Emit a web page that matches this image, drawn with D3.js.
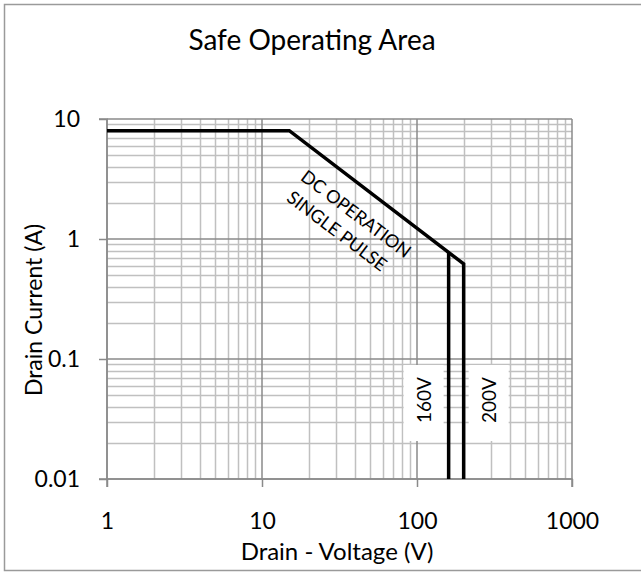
<!DOCTYPE html>
<html>
<head>
<meta charset="utf-8">
<script src="https://cdn.jsdelivr.net/npm/d3@7"></script>
<style>
  body { margin: 0; background: #fff; }
  text { font-family: Lato, "Open Sans", sans-serif; fill: #000; }
</style>
</head>
<body>
<div id="chart"></div>
<script>
// SOA data
var limitVoltage = [1, 15, 200];
var limitCurrent = [8, 8, 0.62];
var breakdownVoltage = [160, 200];
var breakdownTopCurrent = [0.78, 0.62];
var breakdownLabels = ["160V", "200V"];
var bottomCurrent = 0.01;

var xTicks = [1, 10, 100, 1000];
var yTicks = [0.01, 0.1, 1, 10];
var xTickLabels = ["1", "10", "100", "1000"];
var yTickLabels = ["0.01", "0.1", "1", "10"];

var svgWidth = 641;
var svgHeight = 572;
var margin = {top: 119, left: 107};
var width = 465;
var height = 360;

var svg = d3.select("#chart")
  .append("svg")
  .attr("width", svgWidth)
  .attr("height", svgHeight);

// outer frame
svg.append("rect")
  .attr("x", 4.5).attr("y", 4.5)
  .attr("width", 640).attr("height", 566)
  .attr("fill", "#fff")
  .attr("stroke", "#9a9a9a")
  .attr("stroke-width", 1.5);

svg.append("text")
  .attr("x", 312).attr("y", 50)
  .attr("text-anchor", "middle")
  .attr("font-size", "28px")
  .text("Safe Operating Area");

var chartGroup = svg.append("g")
  .attr("transform", `translate(${margin.left}, ${margin.top})`);

var x = d3.scaleLog().domain([1, 1000]).range([0, width]);
var y = d3.scaleLog().domain([0.01, 10]).range([height, 0]);

// minor grid values, 2..9 of each decade
var minorX = [];
[1, 10, 100].forEach(function(d) { for (var k = 2; k < 10; k++) minorX.push(d * k); });
var minorY = [];
[0.01, 0.1, 1].forEach(function(d) { for (var k = 2; k < 10; k++) minorY.push(d * k); });

// minor grid
chartGroup.append("g").selectAll("line")
  .data(minorX).enter().append("line")
  .attr("x1", d => Math.round(x(d)) + 0.5).attr("x2", d => Math.round(x(d)) + 0.5)
  .attr("y1", 0).attr("y2", height)
  .attr("stroke", "#c0c0c0").attr("stroke-width", 1.5);
chartGroup.append("g").selectAll("line")
  .data(minorY).enter().append("line")
  .attr("y1", d => Math.round(y(d)) + 0.5).attr("y2", d => Math.round(y(d)) + 0.5)
  .attr("x1", 0).attr("x2", width)
  .attr("stroke", "#c0c0c0").attr("stroke-width", 1.5);

// major grid
chartGroup.append("g").selectAll("line")
  .data(xTicks).enter().append("line")
  .attr("x1", d => x(d)).attr("x2", d => x(d))
  .attr("y1", 0).attr("y2", height)
  .attr("stroke", "#8a8a8a").attr("stroke-width", 1.5);
chartGroup.append("g").selectAll("line")
  .data(yTicks).enter().append("line")
  .attr("y1", d => y(d)).attr("y2", d => y(d))
  .attr("x1", 0).attr("x2", width)
  .attr("stroke", "#8a8a8a").attr("stroke-width", 1.5);

// axes
var bottomAxis = d3.axisBottom(x).tickValues(xTicks).tickSize(8).tickPadding(26)
  .tickFormat((d, i) => xTickLabels[i]);
var leftAxis = d3.axisLeft(y).tickValues(yTicks).tickSize(8).tickPadding(19)
  .tickFormat((d, i) => yTickLabels[i]);

var xAxisG = chartGroup.append("g")
  .attr("transform", `translate(0, ${height})`)
  .call(bottomAxis);
var yAxisG = chartGroup.append("g").call(leftAxis);

[xAxisG, yAxisG].forEach(function(g) {
  g.select(".domain").attr("stroke", "#8a8a8a").attr("stroke-width", 1.5);
  g.selectAll(".tick line").attr("stroke", "#8a8a8a").attr("stroke-width", 1.5);
  g.selectAll(".tick text").attr("font-size", "23px").attr("fill", "#000")
    .attr("font-family", "Lato, 'Open Sans', sans-serif");
});
yAxisG.select(".domain").attr("d", `M-8,0H0V${height}H-8`);
xAxisG.select(".domain").attr("d", `M0,8V0H${width}V8`);

// axis titles
svg.append("text")
  .attr("x", 337).attr("y", 560)
  .attr("text-anchor", "middle")
  .attr("font-size", "24px")
  .text("Drain - Voltage (V)");

svg.append("text")
  .attr("transform", "translate(42, 310) rotate(-90)")
  .attr("text-anchor", "middle")
  .attr("font-size", "23px")
  .text("Drain Current (A)");

// white label boxes for the breakdown voltages
breakdownVoltage.forEach(function(v, i) {
  var cx = i === 0 ? x(v) - 25 : x(v) + 25;
  chartGroup.append("rect")
    .attr("x", cx - 20).attr("y", 365 - margin.top)
    .attr("width", 40).attr("height", 76)
    .attr("fill", "#fff");
  chartGroup.append("text")
    .attr("transform", `translate(${cx + 7}, ${400 - margin.top}) rotate(-90)`)
    .attr("text-anchor", "middle")
    .attr("font-size", "19px")
    .text(breakdownLabels[i]);
});

// SOA limit line
var line = d3.line().x(d => x(d[0])).y(d => y(d[1]));
var limitPts = limitVoltage.map((v, i) => [v, limitCurrent[i]]);
limitPts.push([200, bottomCurrent]);
chartGroup.append("path")
  .attr("d", line(limitPts))
  .attr("fill", "none")
  .attr("stroke", "#000")
  .attr("stroke-width", 3.5)
  .attr("stroke-linejoin", "miter");

chartGroup.append("path")
  .attr("d", line([[breakdownVoltage[0], breakdownTopCurrent[0]], [breakdownVoltage[0], bottomCurrent]]))
  .attr("fill", "none")
  .attr("stroke", "#000")
  .attr("stroke-width", 3.5);

// curve annotation
chartGroup.append("text")
  .attr("transform", `translate(${356 - margin.left}, ${214 - margin.top}) rotate(37)`)
  .attr("text-anchor", "middle")
  .attr("dy", "0.35em")
  .attr("font-size", "18px")
  .text("DC OPERATION");
chartGroup.append("text")
  .attr("transform", `translate(${337 - margin.left}, ${231 - margin.top}) rotate(37)`)
  .attr("text-anchor", "middle")
  .attr("dy", "0.35em")
  .attr("font-size", "18px")
  .text("SINGLE PULSE");
</script>
</body>
</html>
